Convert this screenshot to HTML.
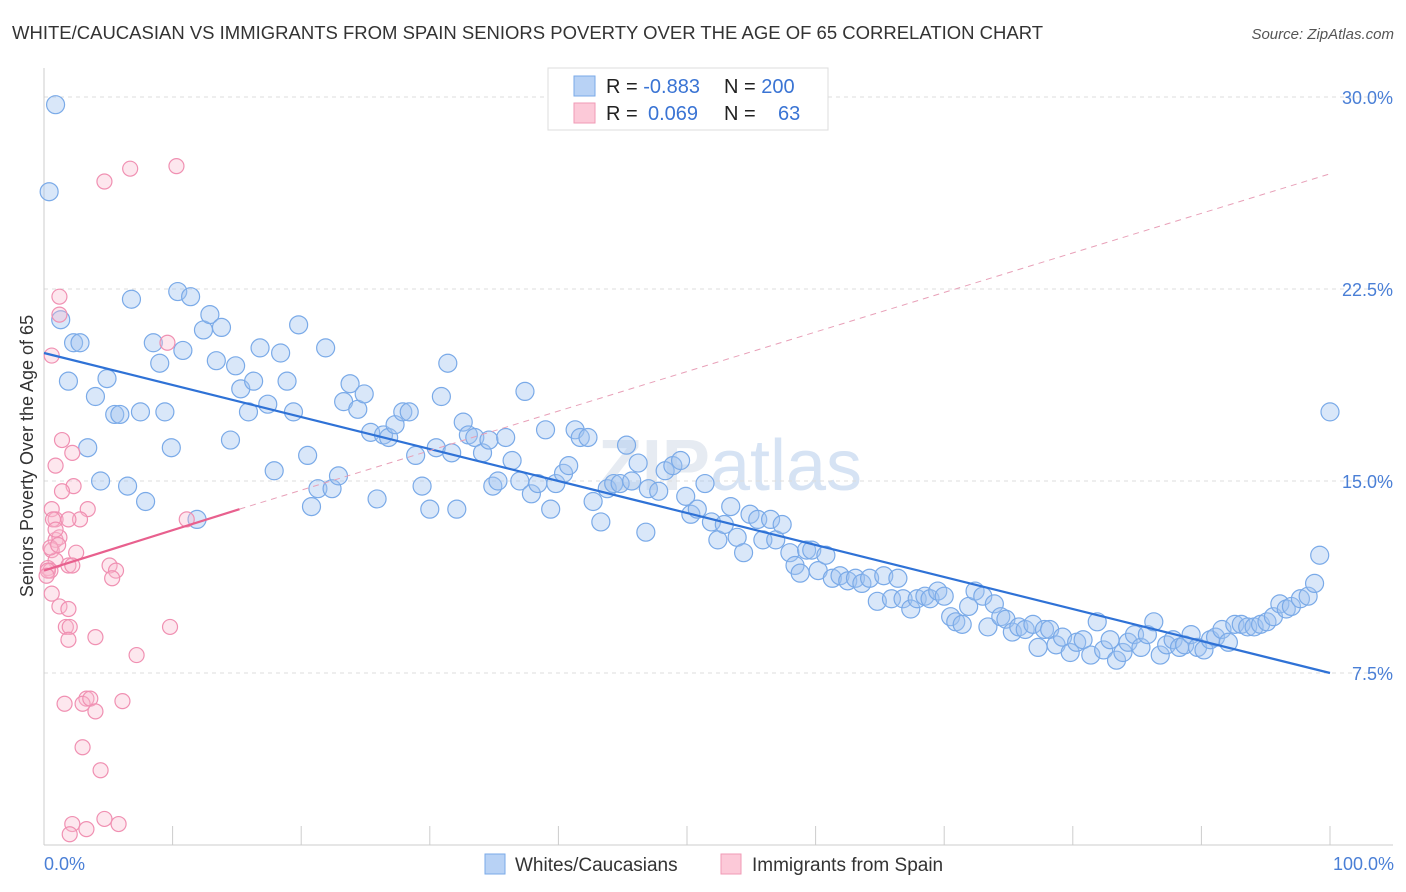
<!DOCTYPE html>
<html><head><meta charset="utf-8"><style>
body{margin:0;background:#fff;font-family:"Liberation Sans",sans-serif;}
svg{display:block}
</style></head><body>
<svg id="chart" width="1406" height="892" xmlns="http://www.w3.org/2000/svg">
<text x="12" y="39" font-size="18.5" fill="#333">WHITE/CAUCASIAN VS IMMIGRANTS FROM SPAIN SENIORS POVERTY OVER THE AGE OF 65 CORRELATION CHART</text>
<text x="1394" y="39" font-size="15" fill="#555" font-style="italic" text-anchor="end">Source: ZipAtlas.com</text>
<text x="730" y="490" font-size="72" fill="#e6ebf2" text-anchor="middle" font-weight="bold">ZIP<tspan font-weight="normal" fill="#d6e3f4">atlas</tspan></text>
<g id="grid"></g><g id="axes"></g><g id="pts"></g><g id="trend"></g>
<text transform="translate(33,456) rotate(-90)" font-size="18" fill="#333" text-anchor="middle">Seniors Poverty Over the Age of 65</text>
<text x="44" y="870" font-size="18" fill="#4a7fd6">0.0%</text>
<text x="1394" y="870" font-size="18" fill="#4a7fd6" text-anchor="end">100.0%</text>
<g>
<rect x="548" y="68" width="280" height="62" fill="#fff" stroke="#ddd"/>
<rect x="574" y="76" width="21" height="20" fill="#b8d2f5" stroke="#7aaae8"/>
<rect x="574" y="103" width="21" height="20" fill="#fcc9d8" stroke="#f09ab6"/>
<text x="606" y="93" font-size="20" fill="#222">R = <tspan fill="#3a74d4">-0.883</tspan><tspan x="724">N = </tspan><tspan fill="#3a74d4">200</tspan></text>
<text x="606" y="120" font-size="20" fill="#222">R = <tspan x="648" fill="#3a74d4">0.069</tspan><tspan x="724">N = </tspan><tspan x="778" fill="#3a74d4">63</tspan></text>
</g>
<g>
<rect x="485" y="854" width="20" height="20" fill="#b8d2f5" stroke="#7aaae8"/>
<text x="515" y="871" font-size="19" fill="#333">Whites/Caucasians</text>
<rect x="721" y="854" width="20" height="20" fill="#fcc9d8" stroke="#f09ab6"/>
<text x="752" y="871" font-size="19" fill="#333">Immigrants from Spain</text>
</g>
</svg>
<script>
const yTicks=[7.5,15,22.5,30];
const yTickLabels=["7.5%","15.0%","22.5%","30.0%"];
const xTicks=[0,10,20,30,40,50,60,70,80,90,100];
const blueX=[0.9,0.4,1.3,1.9,2.3,2.8,3.4,4.0,4.4,4.9,5.5,5.9,6.5,6.8,7.5,7.9,8.5,9.0,9.4,9.9,10.4,10.8,11.4,11.9,12.4,12.9,13.4,13.8,14.5,14.9,15.3,15.9,16.3,16.8,17.4,17.9,18.4,18.9,19.4,19.8,20.5,20.8,21.3,21.9,22.4,22.9,23.3,23.8,24.4,24.9,25.4,25.9,26.4,26.8,27.3,27.9,28.4,28.9,29.4,30.0,30.5,30.9,31.4,31.7,32.1,32.6,33.0,33.5,34.1,34.6,34.9,35.3,35.9,36.4,37.0,37.4,37.9,38.4,39.0,39.4,39.8,40.4,40.8,41.3,41.7,42.3,42.7,43.3,43.8,44.3,44.8,45.3,45.7,46.2,46.8,47.0,47.8,48.3,48.9,49.5,49.9,50.3,50.8,51.4,51.9,52.4,52.9,53.4,53.9,54.4,54.9,55.5,55.9,56.5,56.9,57.4,58.0,58.4,58.8,59.3,59.7,60.2,60.8,61.3,61.9,62.5,63.1,63.6,64.2,64.8,65.3,65.9,66.4,66.8,67.4,67.9,68.5,68.9,69.5,70.0,70.5,70.9,71.4,71.9,72.4,73.0,73.4,73.9,74.4,74.8,75.3,75.8,76.3,76.9,77.3,77.8,78.2,78.7,79.2,79.8,80.3,80.8,81.4,81.9,82.4,82.9,83.4,83.9,84.3,84.8,85.3,85.8,86.3,86.8,87.3,87.8,88.3,88.7,89.2,89.7,90.2,90.7,91.1,91.6,92.1,92.6,93.1,93.6,94.1,94.6,95.1,95.6,96.1,96.6,97.0,97.7,98.3,98.8,99.2,100];
const blueY=[29.7,26.3,21.3,18.9,20.4,20.4,16.3,18.3,15.0,19.0,17.6,17.6,14.8,22.1,17.7,14.2,20.4,19.6,17.7,16.3,22.4,20.1,22.2,13.5,20.9,21.5,19.7,21.0,16.6,19.5,18.6,17.7,18.9,20.2,18.0,15.4,20.0,18.9,17.7,21.1,16.0,14.0,14.7,20.2,14.7,15.2,18.1,18.8,17.8,18.4,16.9,14.3,16.8,16.7,17.2,17.7,17.7,16.0,14.8,13.9,16.3,18.3,19.6,16.1,13.9,17.3,16.8,16.7,16.1,16.6,14.8,15.0,16.7,15.8,15.0,18.5,14.5,14.9,17.0,13.9,14.9,15.3,15.6,17.0,16.7,16.7,14.2,13.4,14.7,14.9,14.9,16.4,15.0,15.7,13.0,14.7,14.6,15.4,15.6,15.8,14.4,13.7,13.9,14.9,13.4,12.7,13.3,14.0,12.8,12.2,13.7,13.5,12.7,13.5,12.7,13.3,12.2,11.7,11.4,12.3,12.3,11.5,12.1,11.2,11.3,11.1,11.2,11.0,11.2,10.3,11.3,10.4,11.2,10.4,10.0,10.4,10.5,10.4,10.7,10.5,9.7,9.5,9.4,10.1,10.7,10.5,9.3,10.2,9.7,9.6,9.1,9.3,9.2,9.4,8.5,9.2,9.2,8.6,8.9,8.3,8.7,8.8,8.2,9.5,8.4,8.8,8.0,8.3,8.7,9.0,8.5,9.0,9.5,8.2,8.6,8.8,8.5,8.6,9.0,8.5,8.4,8.8,8.9,9.2,8.7,9.4,9.4,9.3,9.3,9.4,9.5,9.7,10.2,10.0,10.1,10.4,10.5,11.0,12.1,17.7];
const pinkX=[10.3,6.7,4.7,1.2,1.2,9.6,0.6,1.4,2.2,0.9,2.3,1.4,3.4,0.6,0.9,2.8,11.1,0.7,1.9,0.9,1.2,2.5,0.6,0.9,1.9,0.3,2.2,0.5,5.1,5.6,5.3,0.6,1.2,1.9,1.7,2.0,1.9,4.0,9.8,7.2,3.3,1.6,3.0,3.6,4.0,6.1,3.0,4.4,2.2,4.7,5.8,2.0,3.3,0.3,0.5,0.2,0.9,1.1];
const pinkY=[27.3,27.2,26.7,22.2,21.5,20.4,19.9,16.6,16.1,15.6,14.8,14.6,13.9,13.9,13.5,13.5,13.5,13.5,13.5,12.7,12.8,12.2,12.3,11.9,11.7,11.6,11.7,11.5,11.7,11.5,11.2,10.6,10.1,10.0,9.3,9.3,8.8,8.9,9.3,8.2,6.5,6.3,6.3,6.5,6.0,6.4,4.6,3.7,1.6,1.8,1.6,1.2,1.4,11.5,12.4,11.3,13.1,12.5];
const blueTrendX=[0,100], blueTrendY=[20.0,7.5];
const pinkTrendX=[0,15.2,100], pinkTrendY=[11.5,13.9,27.0];
const NS="http://www.w3.org/2000/svg";
const X0=44,X1=1330,Y0=865,PPY=25.6;
const sx=v=>X0+(X1-X0)*v/100, sy=v=>Y0-v*PPY;
function mk(tag,attrs,parent){const e=document.createElementNS(NS,tag);for(const k in attrs)e.setAttribute(k,attrs[k]);document.getElementById(parent).appendChild(e);return e;}
yTicks.forEach((t,i)=>{
 const l=mk('line',{x1:44,x2:1393,y1:sy(t),y2:sy(t),stroke:'#dcdcdc','stroke-dasharray':'4,4'},'grid');
 
 
 const tx=mk('text',{x:1393,y:sy(t)+7,'font-size':18,fill:'#4a7fd6','text-anchor':'end'},'grid');
 tx.textContent=yTickLabels[i];
 
 
});
let ax=mk('line',{x1:44,x2:1393,y1:845,y2:845,stroke:'#ccc'},'axes');


let ay=mk('line',{x1:44,x2:44,y1:68,y2:845,stroke:'#ccc'},'axes');


xTicks.forEach(t=>{
 const l=mk('line',{x1:sx(t),x2:sx(t),y1:826,y2:845,stroke:'#ccc'},'axes');
 
 
});
blueX.forEach((v,i)=>{
 const c=mk('circle',{cx:sx(v),cy:sy(blueY[i]),r:9,fill:'rgba(160,194,240,0.4)',stroke:'#7aaae8','stroke-width':1.2},'pts');
 
 
});
pinkX.forEach((v,i)=>{
 const c=mk('circle',{cx:sx(v),cy:sy(pinkY[i]),r:7.5,fill:'rgba(250,185,205,0.35)',stroke:'#f090b2','stroke-width':1.2},'pts');
 
 
});
let bt=mk('line',{x1:sx(blueTrendX[0]),y1:sy(blueTrendY[0]),x2:sx(blueTrendX[1]),y2:sy(blueTrendY[1]),stroke:'#2f72d6','stroke-width':2.2},'trend');


let pd=mk('line',{x1:sx(pinkTrendX[1]),y1:sy(pinkTrendY[1]),x2:sx(pinkTrendX[2]),y2:sy(pinkTrendY[2]),stroke:'#e8a0b8','stroke-width':1,'stroke-dasharray':'6,5'},'trend');


let ps=mk('line',{x1:sx(pinkTrendX[0]),y1:sy(pinkTrendY[0]),x2:sx(pinkTrendX[1]),y2:sy(pinkTrendY[1]),stroke:'#e8608e','stroke-width':2.2},'trend');


</script>
</body></html>
